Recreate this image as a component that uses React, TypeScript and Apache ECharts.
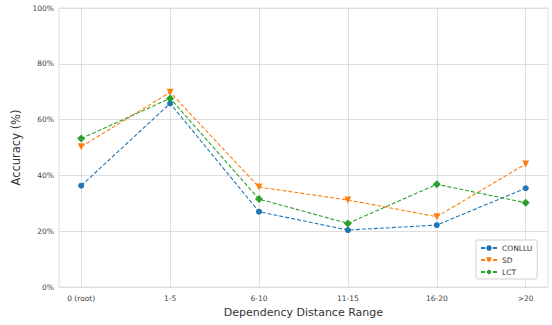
import React, { useEffect, useRef } from "react";
import * as echarts from "echarts";

const categories = ["0 (root)", "1-5", "6-10", "11-15", "16-20", ">20"];
const conllu = [36.3, 65.8, 27.0, 20.4, 22.2, 35.4];
const sd = [50.3, 69.8, 35.8, 31.2, 25.2, 44.1];
const lct = [53.2, 67.6, 31.5, 22.8, 36.8, 30.2];

const FONT = "DejaVu Sans";
const GRID = "#dedede";

export default function App() {
  const ref = useRef<HTMLDivElement>(null);
  useEffect(() => {
    if (!ref.current) return;
    const chart = echarts.init(ref.current, undefined, { renderer: "svg" });
    const mk = (name: string, data: number[], color: string, symbol: string, size: number) => ({
      name,
      type: "line",
      xAxisIndex: 1,
      yAxisIndex: 1,
      data,
      symbol,
      symbolSize: size,
      color,
      lineStyle: { color, width: 1.1, type: [4, 2] },
      itemStyle: { color },
    });
    chart.setOption({
      animation: false,
      textStyle: { fontFamily: FONT },
      grid: [
        { left: 59, top: 8, width: 489, height: 279, show: true, borderColor: GRID, borderWidth: 1 },
        { left: 81.2, top: 8, width: 444.5, height: 279 },
      ],
      xAxis: [
        { type: "value", gridIndex: 0, min: 0, max: 1, show: false },
        {
          type: "category",
          gridIndex: 1,
          data: categories,
          boundaryGap: false,
          axisLine: { show: false },
          axisTick: { show: false },
          axisLabel: { fontSize: 7.5, color: "#444", margin: 7, fontFamily: FONT },
          splitLine: { show: true, lineStyle: { color: GRID, width: 1 } },
          name: "Dependency Distance Range",
          nameLocation: "middle",
          nameGap: 20,
          nameTextStyle: { fontSize: 11, color: "#333", fontFamily: FONT },
        },
      ],
      yAxis: [
        {
          type: "value",
          gridIndex: 0,
          min: 0,
          max: 100,
          interval: 20,
          axisLine: { show: false },
          axisTick: { show: false },
          axisLabel: { fontSize: 7.5, color: "#444", margin: 5, formatter: "{value}%", fontFamily: FONT },
          splitLine: { show: true, lineStyle: { color: GRID, width: 1 } },
          name: "Accuracy (%)",
          nameLocation: "middle",
          nameGap: 29,
          nameTextStyle: { fontSize: 11.5, color: "#333", fontFamily: FONT },
        },
        { type: "value", gridIndex: 1, min: 0, max: 100, show: false },
      ],
      legend: {
        orient: "vertical",
        left: 476,
        top: 240,
        padding: [4, 5, 3, 4],
        itemGap: 4,
        itemWidth: 16,
        itemHeight: 7,
        textStyle: { fontSize: 7.5, color: "#333", fontFamily: FONT },
        backgroundColor: "#ffffff",
        borderColor: "#d0d0d0",
        borderWidth: 1,
        borderRadius: 2,
        data: ["CONLLU", "SD", "LCT"],
      },
      series: [
        mk("CONLLU", conllu, "#1f77b4", "circle", 6),
        mk("SD", sd, "#ff7f0e", "path://M0,0 L10,0 L5,9 Z", 7),
        mk("LCT", lct, "#2ca02c", "diamond", 8),
      ],
    });
    return () => chart.dispose();
  }, []);
  return (
    <div
      ref={ref}
      style={{ position: "fixed", left: 0, top: 0, width: 552, height: 325, background: "#fff" }}
    />
  );
}
